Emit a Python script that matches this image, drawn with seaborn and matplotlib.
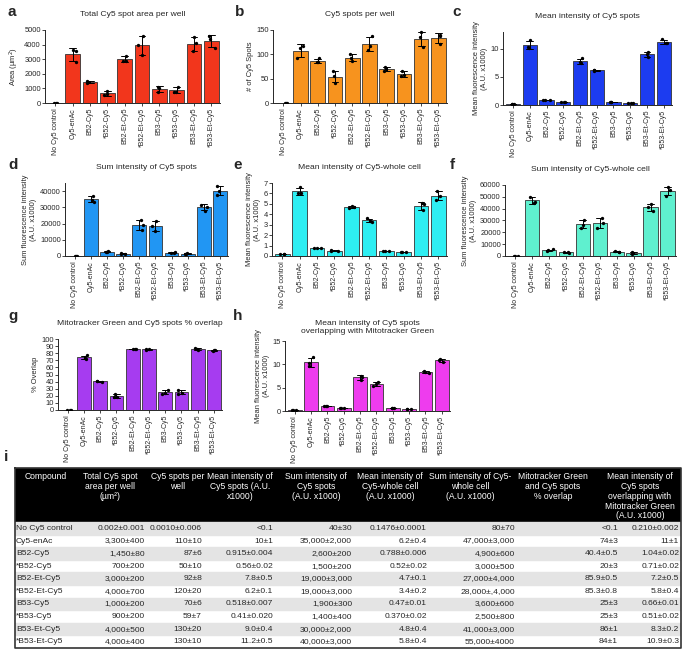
import numpy as np
import pandas as pd
import matplotlib
matplotlib.use("Agg")
import matplotlib.pyplot as plt
import seaborn as sns

compounds = ["No Cy5 control", "Cy5-enAc", "B52-Cy5", "*B52-Cy5", "B52-Et-Cy5",
             "*B52-Et-Cy5", "B53-Cy5", "*B53-Cy5", "B53-Et-Cy5", "*B53-Et-Cy5"]

# replicate values (3 per compound)
area = [[0, 0, 0], [3650, 3550, 2800], [1530, 1420, 1400], [850, 550, 600], [3250, 2900, 2850],
        [4600, 3950, 3300], [1100, 1050, 750], [1100, 750, 750], [4500, 4100, 3550], [4600, 4400, 3800]]
spots = [[0, 0, 0], [118, 112, 92], [92, 85, 84], [66, 55, 42], [100, 92, 86],
         [138, 118, 108], [75, 70, 66], [66, 57, 56], [145, 135, 116], [140, 138, 122]]
mean_spots = [[0.1, 0.1, 0.1], [11.6, 10.3, 10.2], [0.92, 0.91, 0.92], [0.58, 0.55, 0.54], [8.3, 7.7, 7.4],
              [6.3, 6.2, 6.1], [0.52, 0.51, 0.53], [0.43, 0.40, 0.39], [9.4, 9.0, 8.6], [11.7, 11.0, 11.0]]
sum_spots = [[10, 40, 70], [37000, 34500, 33500], [2800, 2600, 2400], [1700, 1400, 1400], [22000, 19000, 16000],
             [21500, 18500, 15500], [2200, 1800, 1700], [1800, 1200, 1200], [31500, 30500, 28000], [43000, 40000, 37500]]
mean_cell = [[0.15, 0.15, 0.15], [6.6, 6.0, 6.0], [0.80, 0.79, 0.78], [0.54, 0.52, 0.50], [4.8, 4.7, 4.6],
             [3.6, 3.4, 3.3], [0.48, 0.47, 0.46], [0.39, 0.37, 0.35], [5.1, 5.0, 4.4], [6.2, 5.8, 5.4]]
sum_cell = [[80, 40, 120], [50000, 46000, 45000], [5500, 4800, 4400], [3500, 3000, 2500], [30500, 26500, 24000],
            [32000, 28000, 24000], [4200, 3500, 3100], [3300, 2000, 2200], [44000, 41000, 38000], [58000, 56000, 51000]]
overlap = [[0, 0, 0], [77, 73, 72], [40.9, 40.3, 40.0], [23, 19, 18], [86.4, 85.8, 85.5],
           [86.0, 85.3, 84.6], [28, 24, 23], [28, 24, 23], [87, 86, 85], [85, 84, 83]]
mean_overlap = [[0.21, 0.21, 0.21], [11.5, 10.2, 9.6], [1.06, 1.04, 1.02], [0.73, 0.71, 0.69], [7.6, 7.3, 6.7],
                [6.2, 5.8, 5.4], [0.67, 0.66, 0.65], [0.53, 0.51, 0.49], [8.5, 8.3, 8.1], [11.2, 10.9, 10.6]]

# table values
tab_headers = ["Compound", "Total Cy5 spot\narea per well\n(µm²)", "Cy5 spots per\nwell",
               "Mean intensity of\nCy5 spots (A.U.\nx1000)", "Sum intensity of\nCy5 spots\n(A.U. x1000)",
               "Mean intensity of\nCy5-whole cell\n(A.U. x1000)", "Sum intensity of Cy5-\nwhole cell\n(A.U. x1000)",
               "Mitotracker Green\nand Cy5 spots\n% overlap",
               "Mean intensity of\nCy5 spots\noverlapping with\nMitotracker Green\n(A.U. x1000)"]
tab_area = ["0.002±0.001", "3,300±400", "1,450±80", "700±200", "3,000±200", "4,000±700",
            "1,000±200", "900±200", "4,000±500", "4,000±400"]
tab_spots = ["0.0010±0.006", "110±10", "87±6", "50±10", "92±8", "120±20", "70±6", "59±7", "130±20", "130±10"]
tab_mean_spots = ["<0.1", "10±1", "0.915±0.004", "0.56±0.02", "7.8±0.5", "6.2±0.1", "0.518±0.007",
                  "0.41±0.020", "9.0±0.4", "11.2±0.5"]
tab_sum_spots = ["40±30", "35,000±2,000", "2,600±200", "1,500±200", "19,000±3,000", "19,000±3,000",
                 "1,900±300", "1,400±400", "30,000±2,000", "40,000±3,000"]
tab_mean_cell = ["0.1476±0.0001", "6.2±0.4", "0.788±0.006", "0.52±0.02", "4.7±0.1", "3.4±0.2",
                 "0.47±0.01", "0.370±0.02", "4.8±0.4", "5.8±0.4"]
tab_sum_cell = ["80±70", "47,000±3,000", "4,900±600", "3,000±500", "27,000±4,000", "28,000±,4,000",
                "3,600±600", "2,500±800", "41,000±3,000", "55,000±4000"]
tab_overlap = ["<0.1", "74±3", "40.4±0.5", "20±3", "85.9±0.5", "85.3±0.8", "25±3", "25±3", "86±1", "84±1"]
tab_mean_overlap = ["0.210±0.002", "11±1", "1.04±0.02", "0.71±0.02", "7.2±0.5", "5.8±0.4",
                    "0.66±0.01", "0.51±0.02", "8.3±0.2", "10.9±0.3"]

sns.set_style("ticks")
plt.rcParams['font.family'] = ['Liberation Sans', 'DejaVu Sans']
np.random.seed(3)

W, H = 682, 651
fig = plt.figure(figsize=(W / 100, H / 100), dpi=100)


def px_axes(x0, y0, x1, y1):
    return fig.add_axes([x0 / W, 1 - y1 / H, (x1 - x0) / W, (y1 - y0) / H])


panels = [
    ("a", area, "Total Cy5 spot area per well", "Area (µm$^2$)", "#F2361C", (0, 5000), np.arange(0, 5001, 1000), (45, 30, 220, 103), (8, 12)),
    ("b", spots, "Cy5 spots per well", "# of Cy5 Spots", "#F7931E", (0, 150), [0, 50, 100, 150], (273, 30, 447, 103), (235, 12)),
    ("c", mean_spots, "Mean intensity of Cy5 spots", "Mean fluorescence intensity\n(A.U. x1000)", "#1C3CF0", (0, 13), [0, 5, 10], (503, 32, 672, 105), (452, 12)),
    ("d", sum_spots, "Sum intensity of Cy5 spots", "Sum fluorescence intensity\n(A.U. x1000)", "#2196F3", (0, 45000), np.arange(0, 40001, 10000), (65, 183, 228, 256), (8, 165)),
    ("e", mean_cell, "Mean intensity of Cy5-whole cell", "Mean fluorescence intensity\n(A.U. x1000)", "#2EEEF2", (0, 7), np.arange(0, 8), (272, 183, 447, 256), (233, 165)),
    ("f", sum_cell, "Sum intensity of Cy5-whole cell", "Sum fluorescence intensity\n(A.U. x1000)", "#5FF0CF", (0, 60000), np.arange(0, 60001, 10000), (505, 185, 676, 256), (450, 165)),
    ("g", overlap, "Mitotracker Green and Cy5 spots % overlap", "% Overlap", "#A63CF0", (0, 100), np.arange(0, 101, 10), (58, 339, 222, 410), (8, 316)),
    ("h", mean_overlap, "Mean intensity of Cy5 spots\noverlapping with Mitotracker Green", "Mean fluorescence intensity\n(A.U. x1000)", "#EE3CEE", (0, 15), [0, 5, 10, 15], (285, 341, 450, 411), (233, 316)),
]

for letter, reps, title, ylabel, color, ylim, yticks, box, lab in panels:
    df = pd.DataFrame([(c, v) for c, vals in zip(compounds, reps) for v in vals],
                      columns=["compound", "value"])
    ax = px_axes(*box)
    sns.barplot(data=df, x="compound", y="value", color=color, errorbar="sd",
                capsize=0.4, err_kws={"color": "black", "linewidth": 0.7},
                edgecolor="#333333", linewidth=0.6, width=0.85, saturation=1, ax=ax)
    sns.stripplot(data=df, x="compound", y="value", color="black", size=2.4,
                  jitter=0.22, ax=ax)
    ax.set_ylim(*ylim)
    ax.set_yticks(yticks)
    ax.set_xlim(-0.6, 9.5)
    ax.set_xlabel("")
    ax.set_ylabel(ylabel, fontsize=5.4, labelpad=2)
    ax.set_title(title, fontsize=6.1, pad=10 if "\n" not in title else 6)
    ax.tick_params(axis="x", labelrotation=90, labelsize=5, length=2, width=0.6, pad=1.5)
    ax.tick_params(axis="y", labelsize=5.4, length=2, width=0.6, pad=1)
    for s in ["left", "bottom"]:
        ax.spines[s].set_linewidth(0.7)
    sns.despine(ax=ax)
    fig.text(lab[0] / W, 1 - lab[1] / H, letter, fontsize=11, fontweight="bold", va="center")

# table i
fig.text(4 / W, 1 - 457 / H, "i", fontsize=11, fontweight="bold", va="center")
tax = px_axes(15, 468, 681, 648)
hdr = 4.3
tax.set_xlim(15, 681)
tax.set_ylim(10, -hdr)
tax.axis("off")
tax.axhspan(-hdr, 0, color="black")
for r in range(len(compounds)):
    if r % 2 == 0:
        tax.axhspan(r, r + 1, color="#E4E4E4")
tax.plot([15, 681, 681, 15, 15], [-hdr, -hdr, 10, 10, -hdr], color="#333333", lw=1.2, clip_on=False)

hdr_x = [25, 110, 178, 240, 316, 390, 470, 553, 640]
for j, (x, h) in enumerate(zip(hdr_x, tab_headers)):
    tax.text(x, -hdr + 0.35, h, color="white", fontsize=6.2, ha="left" if j == 0 else "center",
             va="top", linespacing=1.1)

cols = [tab_area, tab_spots, tab_mean_spots, tab_sum_spots, tab_mean_cell, tab_sum_cell,
        tab_overlap, tab_mean_overlap]
col_right = [145, 202, 273, 352, 427, 515, 618, 679]
for r, name in enumerate(compounds):
    tax.text(16, r + 0.5, name, fontsize=6.1, ha="left", va="center")
    for xr, col in zip(col_right, cols):
        tax.text(xr, r + 0.5, col[r], fontsize=6.1, ha="right", va="center")

fig.savefig("out.png", dpi=100)
